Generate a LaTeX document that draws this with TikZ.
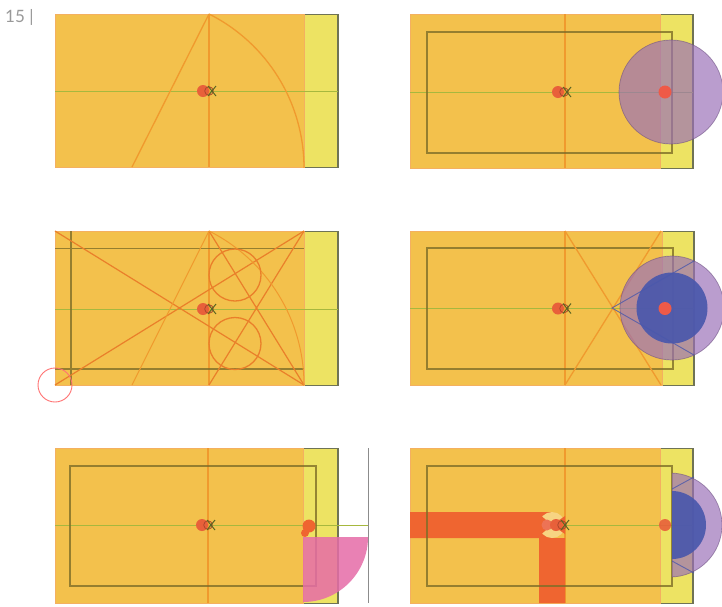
\documentclass[tikz,border=0pt]{standalone}
\usepackage{fontspec}
\setmainfont{Lato}
\definecolor{bodyor}{HTML}{F3C14C}
\definecolor{edgeor}{HTML}{F4B060}
\definecolor{flap}{HTML}{EDE363}
\definecolor{guide}{HTML}{F09A2E}
\definecolor{construct}{HTML}{EA7F2A}
\definecolor{axis}{HTML}{A6B83E}
\definecolor{inner}{HTML}{7E6E28}
\definecolor{flapedge}{HTML}{6F7355}
\definecolor{dotred}{HTML}{E8603A}
\definecolor{pointred}{HTML}{EE5A48}
\definecolor{purp}{HTML}{9A70B8}
\definecolor{deepblue}{HTML}{4A58AC}
\definecolor{pinkq}{HTML}{E66CA8}
\definecolor{band}{HTML}{EF6530}
\tikzset{
  orangebody/.style={fill=bodyor,draw=edgeor,line width=1pt},
  flapbody/.style={fill=flap},
  flapline/.style={draw=flapedge,line width=1pt},
  guideline/.style={draw=guide,line width=1.3pt},
  constructline/.style={draw=construct,line width=1.2pt},
  axisline/.style={draw=axis,line width=1pt},
  innerrect/.style={draw=inner,line width=1.3pt,draw opacity=.8},
  reddot/.style={fill=dotred},
  purpledisc/.style={fill=purp,fill opacity=.68,draw=purp!70!black,draw opacity=.6,line width=.7pt},
  bluedisc/.style={fill=deepblue,fill opacity=.92},
  bluestroke/.style={draw=deepblue,line width=.9pt,opacity=.8},
}
% #1 left, #2 fold, #3 right, #4 top, #5 bottom, #6 axis y, #7 centre x
\newcommand{\panelbase}[7]{%
  \fill[flapbody] (#2,#4) rectangle (#3,#5);
  \draw[flapline] (#2,#4) -- (#3,#4) -- (#3,#5) -- (#2,#5);
  \draw[flapedge,line width=1.4pt] (#3,#4) -- (#3,#5);
  \draw[orangebody] (#1,#4) rectangle (#2,#5);
  \draw[axisline] (#1,#6) -- (#3,#6);
}
% #1 centre x, #2 axis y
\newcommand{\centremark}[2]{%
  \fill[reddot] (#1-6,#2) circle (6);
  \draw[dotred!75!black,line width=.8pt] (#1,#2) circle (4.3);
  \draw[axis!55!black,line width=1pt] (#1-1,#2-5) -- (#1+7,#2+5) (#1-1,#2+5) -- (#1+7,#2-5);
}
\begin{document}
\begin{tikzpicture}[x=1pt,y=1pt,yscale=-1]
\clip (0,0) rectangle (722,606);
\fill[white] (0,0) rectangle (722,606);
\node[anchor=west,text=black!40,font=\fontsize{17}{20}\selectfont,inner sep=0pt] (pagenum) at (5,17) {15 |};

% panel 1
\panelbase{55}{304}{338}{14}{167}{91}{209}
\draw[guideline] (209,14) -- (209,167);
\draw[guideline] (209,14) -- (132,167);
\draw[guideline] (209,14) arc[start angle=-63.4,end angle=0,radius=172];
\centremark{209}{91}

% panel 2
\panelbase{410}{660}{693}{14}{168}{92}{565}
\draw[guideline] (565,14) -- (565,168);
\draw[innerrect] (427,32) rectangle (672,153);
\centremark{564}{92}
\draw[purpledisc] (671,92) circle (52);
\fill[pointred] (665,92) circle (6.5);

% panel 3
\panelbase{55}{304}{338}{231}{385}{309}{209}
\draw[guideline] (209,231) -- (209,385);
\draw[innerrect,line width=1.4pt] (55,248.5) -- (304,248.5) (55,369) -- (304,369) (71,231) -- (71,385);
\draw[constructline] (55,231) -- (304,385) (55,385) -- (304,231);
\draw[constructline] (209,231) -- (304,385) (209,385) -- (304,231);
\draw[guideline,line width=1pt] (209,231) -- (132,385);
\draw[guideline,line width=1pt] (209,231) arc[start angle=-63.4,end angle=0,radius=172];
\draw[constructline,line width=1.3pt] (235,275) circle (26) (235,343.5) circle (26);
\draw[red!55!white,line width=.9pt] (55,385) circle (17);
\centremark{209}{309}

% panel 4
\panelbase{410}{662}{694}{231}{385}{308.5}{565}
\draw[guideline] (565,231) -- (565,385);
\draw[innerrect] (427,248) rectangle (673,369);
\draw[guideline] (565,231) -- (661,385) (565,385) -- (661,231);
\centremark{564}{308.5}
\draw[purpledisc] (672,308) circle (52);
\fill[bluedisc] (672,308) circle (35.5);
\draw[bluestroke] (694,261) -- (612,308) -- (694,355);
\fill[pointred] (665,308.5) circle (6.5);

% panel 5
\panelbase{55}{303}{338}{448}{603}{525}{208}
\draw[guideline] (208,448) -- (208,603);
\draw[axisline] (338,525) -- (368,525);
\draw[innerrect] (70,466) rectangle (316,586);
\draw[black!45,line width=.9pt] (368,448) -- (368,603);
\fill[band] (309,526) circle (6.5) (305,533) circle (4);
\fill[pinkq,fill opacity=.85] (303,537) -- (368,537) arc[start angle=0,end angle=90,radius=65] -- cycle;
\centremark{208}{525}

% panel 6
\panelbase{410}{660}{693}{448}{603}{525}{565}
\draw[guideline] (565,448) -- (565,603);
\fill[band] (410,512) rectangle (552,538) (539,538) rectangle (565,603);
\fill[bodyor!70!white] (552,525) circle (13);
\fill[band] (539,514) -- (552,525) -- (539,536) -- cycle (552,525) -- (565,516) -- (565,534) -- cycle;
\draw[innerrect] (427,466) rectangle (672,586);
\fill[dotred!80!pink] (547,525) circle (5.5);
\centremark{562}{525}
\fill[dotred,opacity=.9] (665,525) circle (6);
\begin{scope}
\clip (672,448) rectangle (722,603);
\draw[purpledisc] (670,525) circle (52);
\fill[bluedisc] (672,525) circle (34);
\draw[bluestroke] (694,477) -- (672,489) (694,573) -- (672,561);
\end{scope}
\end{tikzpicture}
\end{document}
